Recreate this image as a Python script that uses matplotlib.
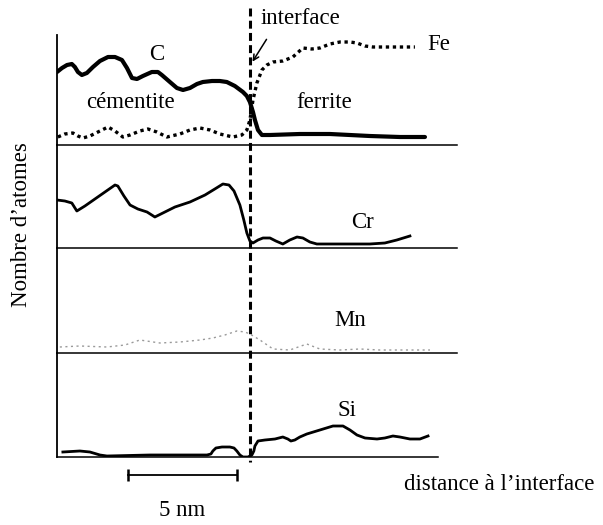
import matplotlib
matplotlib.use("Agg")
import matplotlib.pyplot as plt
from matplotlib.transforms import blended_transform_factory

plt.rcParams['font.family'] = ['Liberation Serif', 'DejaVu Serif']

# distance to the interface (nm) and atom counts (arbitrary units)
c_x = [-8.85, -8.62, -8.39, -8.17, -8.03, -7.89, -7.71, -7.48, -7.20, -6.88, -6.51, -6.19,
       -5.87, -5.64, -5.41, -5.18, -4.91, -4.50, -4.22, -4.04, -3.67, -3.35, -3.07, -2.75,
       -2.43, -2.16, -1.74, -1.38, -1.06, -0.69, -0.32, -0.14, 0.0, 0.14, 0.23, 0.37, 0.55,
       0.92, 2.29, 3.67, 5.50, 6.88, 8.03]
c_y = [73, 77, 80, 81, 78, 73, 70, 72, 78, 84, 88, 88, 85, 77, 67, 66, 69, 73, 73, 70, 63,
       57, 55, 57, 61, 63, 64, 64, 63, 59, 53, 49, 43, 33, 25, 15, 10, 10, 11, 11, 9, 8, 8]

fe_x = [-8.81, -8.49, -8.12, -7.89, -7.66, -7.34, -6.88, -6.51, -6.19, -5.83, -5.50, -5.05,
        -4.68, -4.27, -3.81, -3.21, -2.75, -2.29, -1.83, -1.38, -0.78, -0.37, -0.14, 0.0,
        0.14, 0.32, 0.55, 0.78, 1.06, 1.51, 1.97, 2.43, 2.84, 3.21, 3.67, 4.13, 4.59, 4.91,
        5.28, 5.64, 6.65, 7.57]
fe_y = [8, 11, 12, 9, 7, 9, 14, 18, 14, 8, 10, 14, 16, 13, 8, 11, 15, 17, 15, 11, 8, 10, 15,
        25, 45, 62, 75, 80, 83, 84, 88, 97, 96, 97, 101, 103, 103, 102, 99, 98, 98, 98]

cr_x = [-8.85, -8.49, -8.17, -7.94, -7.57, -7.11, -6.65, -6.19, -6.06, -5.78, -5.50, -5.14,
        -4.72, -4.36, -3.90, -3.44, -2.75, -2.06, -1.61, -1.24, -0.96, -0.73, -0.46, -0.28,
        -0.14, 0.0, 0.14, 0.37, 0.60, 0.92, 1.19, 1.51, 1.83, 2.16, 2.43, 2.75, 3.07, 3.67,
        4.59, 5.50, 6.19, 6.74, 7.34]
cr_y = [48, 47, 45, 37, 42, 49, 56, 63, 62, 52, 43, 39, 36, 31, 36, 41, 46, 53, 59, 64, 63,
        57, 43, 28, 15, 7, 5, 8, 10, 10, 7, 4, 8, 11, 10, 6, 4, 4, 4, 4, 5, 8, 12]

mn_x = [-8.72, -7.80, -6.56, -5.73, -5.05, -4.13, -3.21, -2.29, -1.70, -1.15, -0.60, -0.23,
        0.0, 0.23, 0.46, 1.06, 1.83, 2.61, 3.21, 4.13, 5.05, 5.96, 6.88, 8.26]
mn_y = [6, 7, 6, 8, 13, 10, 11, 13, 15, 18, 22, 21, 19, 16, 13, 4, 3, 9, 4, 3, 4, 3, 3, 3]

si_x = [-8.58, -7.80, -7.34, -6.88, -6.56, -4.59, -1.97, -1.79, -1.70, -1.56, -1.28, -0.92,
        -0.73, -0.60, -0.46, -0.32, -0.09, 0.09, 0.18, 0.23, 0.37, 0.69, 1.15, 1.51, 1.74,
        1.88, 2.06, 2.29, 2.61, 3.21, 3.81, 4.27, 4.59, 4.91, 5.28, 5.83, 6.19, 6.56, 6.88,
        7.34, 7.80, 8.17]
si_y = [5, 6, 5, 2, 1, 2, 2, 3, 6, 9, 10, 10, 9, 6, 2, 0, 0, 2, 6, 11, 16, 17, 18, 20, 18,
        16, 17, 20, 23, 27, 31, 31, 27, 22, 19, 18, 19, 21, 20, 18, 18, 21]

scale_bar = [-5.60, -0.60]   # 5 nm

W, H = 603, 525
fig = plt.figure(figsize=(W / 100, H / 100), dpi=100)

left, right = 57, 457
panels = [(35, 145), (145, 248), (248, 353), (353, 457)]  # pixel top, bottom
xlim = (-8.85, 9.5)
axes = []
for top, bot in panels:
    ax = fig.add_axes([left / W, 1 - bot / H, (right - left) / W, (bot - top) / H])
    ax.set_xlim(*xlim)
    ax.set_ylim(0, bot - top)
    ax.set_xticks([])
    ax.set_yticks([])
    ax.patch.set_alpha(0)
    for s in ('top', 'right'):
        ax.spines[s].set_visible(False)
    ax.spines['left'].set_linewidth(1.3)
    ax.spines['bottom'].set_linewidth(1.1)
    axes.append(ax)
ax1, ax2, ax3, ax4 = axes
ax4.spines['bottom'].set_bounds(xlim[0], 8.62)

ax1.plot(c_x, c_y, color='black', lw=3.0, solid_joinstyle='round', solid_capstyle='round')
ax1.plot(fe_x, fe_y, color='black', lw=2.4, linestyle=(0, (1, 1.1)))
ax2.plot(cr_x, cr_y, color='black', lw=2.0, solid_joinstyle='round')
ax3.plot(mn_x, mn_y, color='#9a9a9a', lw=1.0, linestyle=(0, (1.5, 2.5)))
ax4.plot(si_x, si_y, color='black', lw=2.0, solid_joinstyle='round')

fs = 16.5
ax1.text(-4.27, 90, 'C', fontsize=fs, ha='center', va='center')
ax1.text(8.12, 100, 'Fe', fontsize=fs, ha='left', va='center')
ax1.text(-5.5, 42, 'cémentite', fontsize=fs, ha='center', va='center')
ax1.text(3.4, 43, 'ferrite', fontsize=fs, ha='center', va='center')
ax2.text(5.18, 25, 'Cr', fontsize=fs, ha='center', va='center')
ax3.text(4.59, 33, 'Mn', fontsize=fs, ha='center', va='center')
ax4.text(4.45, 47, 'Si', fontsize=fs, ha='center', va='center')

# interface dashed line
tr = blended_transform_factory(ax1.transData, fig.transFigure)
fig.add_artist(plt.Line2D([0, 0], [1 - 8 / H, 1 - 462 / H], transform=tr,
                          color='black', lw=2.2, linestyle=(0, (2.6, 1.4))))

fig.text(261 / W, 1 - 19 / H, 'interface', fontsize=fs, ha='left', va='center')
ax1.annotate('', xy=(251, H - 64), xycoords='figure pixels',
             xytext=(268, H - 37), textcoords='figure pixels',
             arrowprops=dict(arrowstyle='->', color='black', lw=1.1))

# scale bar
ax4.plot(scale_bar, [-18, -18], color='black', lw=1.3, clip_on=False,
         marker='|', markersize=9, markeredgewidth=1.8)
ax4.text(sum(scale_bar) / 2, -53, '5 nm', fontsize=fs, ha='center', va='center')

fig.text(404 / W, 1 - 484 / H, 'distance à l\u2019interface', fontsize=fs,
         ha='left', va='center')
fig.text(22 / W, 1 - 225 / H, 'Nombre d\u2019atomes', fontsize=fs, rotation=90,
         ha='center', va='center')

fig.savefig('out.png', dpi=100)
